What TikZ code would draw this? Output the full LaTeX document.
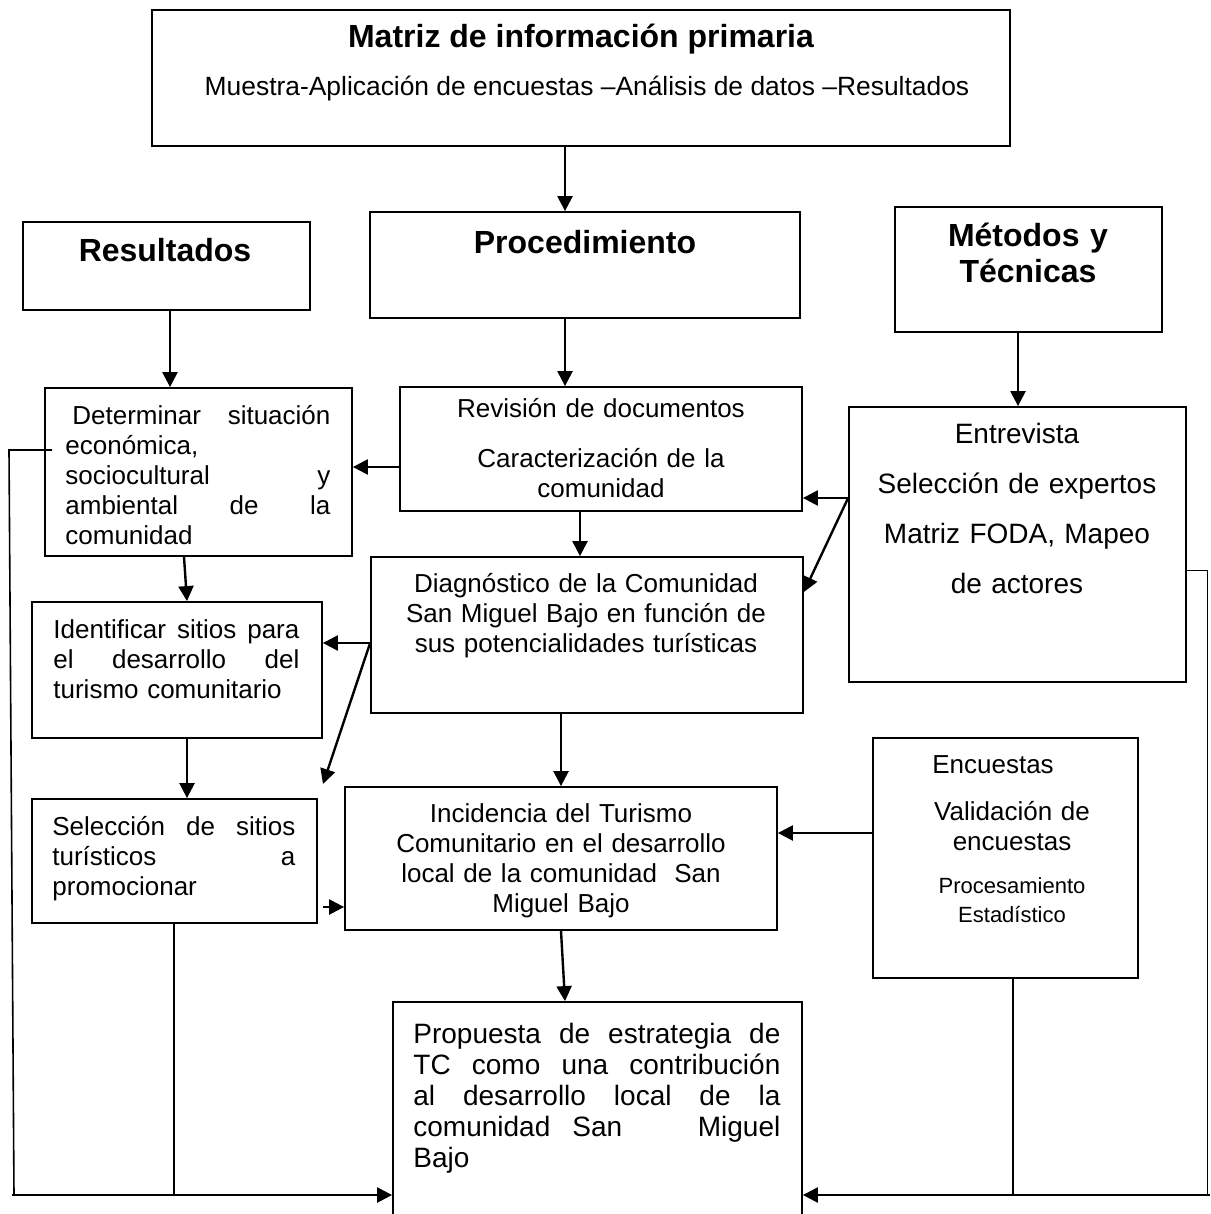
\documentclass[tikz,border=0pt]{standalone}
\usepackage{fontspec}
\setmainfont{Liberation Sans}
\usetikzlibrary{arrows.meta,fit}
\newcommand{\jl}[1]{\makebox[\hsize][s]{\spaceskip=.28em plus 1fil\relax #1}}

\begin{document}
\begin{tikzpicture}[x=0.5pt, y=-0.5pt,
  box/.style={draw, line width=0.9pt, inner sep=0pt},
  txt/.style={inner sep=0pt, font=\fontsize{13}{15}\selectfont},
  head/.style={inner sep=0pt, align=center, font=\fontsize{16}{17.5}\selectfont\bfseries},
  arr/.style={line width=1.2pt, -{Triangle[length=7.5pt,width=7.5pt]}},
  link/.style={line width=0.8pt}]

 \useasboundingbox (0,0) rectangle (1210,1214);

 %boxes
 \foreach \n/\xa/\ya/\xb/\yb in {mat/152/10/1010/146, res/23/222/310/310, pro/370/212/800/318,
   met/895/207/1162/332, det/45/388/352/556, rev/400/387/802/511, ent/849/407/1186/682,
   dia/371/557/803/713, ide/32/602/322/738, sel/32/799/317/923, inc/345/787/777/930,
   enc/873/738/1138/978, prop/393/1002/802/1222} {
   \node[box, fit={(\xa,\ya) (\xb,\yb)}] (\n) {};
 }

 %texts
 \node[head, anchor=base] (matT) at (581,48) {Matriz de información primaria};
 \node[txt, anchor=base, font=\fontsize{13.2}{15}\selectfont] (matS) at (587,96) {Muestra-Aplicación de encuestas –Análisis de datos –Resultados};
 \node[head, anchor=base] (resT) at (165,262) {Resultados};
 \node[head, anchor=base] (proT) at (585,253) {Procedimiento};
 \node[head, anchor=base, text width=130pt] (metT) at (1028,247) {Métodos y\\Técnicas};

 \node[txt, anchor=base west, text width=132.5pt, align=left] (detT) at (65,424)
   {\jl{\hspace*{3.5pt}Determinar situación}\\económica,\\\jl{sociocultural y}\\\jl{ambiental de la}\\comunidad};
 \node[txt, anchor=base, text width=190pt, align=center] (revT) at (601,417)
   {Revisión de documentos\\[10pt]Caracterización de la\\comunidad};
 \node[txt, anchor=base, text width=165pt, align=center, font=\fontsize{14}{25}\selectfont] (entT) at (1017,443)
   {Entrevista\\Selección de expertos\\Matriz FODA, Mapeo\\de actores};
 \node[txt, anchor=base, text width=210pt, align=center] (diaT) at (586,592)
   {Diagnóstico de la Comunidad\\San Miguel Bajo en función de\\sus potencialidades turísticas};
 \node[txt, anchor=base west, text width=123pt, align=left] (ideT) at (53,638)
   {\jl{Identificar sitios para}\\\jl{el desarrollo del}\\turismo comunitario};
 \node[txt, anchor=base west, text width=121.5pt, align=left] (selT) at (52,835)
   {\jl{Selección de sitios}\\\jl{turísticos a}\\promocionar};
 \node[txt, anchor=base, text width=210pt, align=center] (incT) at (561,822)
   {Incidencia del Turismo\\Comunitario en el desarrollo\\local de la comunidad\ \ San\\Miguel Bajo};
 \node[txt, anchor=base] (encT) at (993,773) {Encuestas};
 \node[txt, anchor=base, text width=120pt, align=center] (encV) at (1012,820) {Validación de\\encuestas};
 \node[txt, anchor=base, text width=120pt, align=center, font=\fontsize{11}{14.5}\selectfont] (encP) at (1012,893)
   {Procesamiento\\Estadístico};
 \node[txt, anchor=base west, text width=183.5pt, align=left, font=\fontsize{14}{15.5}\selectfont] (propT) at (413,1043)
   {\jl{Propuesta de estrategia de}\\\jl{TC como una contribución}\\\jl{al desarrollo local de la}\\\jl{comunidad\hspace{11pt}San\hfill Miguel}\\Bajo};

 %arrows down
 \foreach \a/\b/\x in {mat/pro/565, res/det/170, pro/rev/565, met/ent/1018, rev/dia/580, ide/sel/187, dia/inc/561}
   \draw[arr] (\a.south -| \x,0) -- (\b.north -| \x,0);
 \draw[arr] (det.south -| 184,0) -- (ide.north -| 187,0);
 \draw[arr] (inc.south -| 561,0) -- (prop.north -| 565,0);

 %arrows sideways
 \draw[arr] (rev.west |- 0,467) -- (det.east |- 0,467);
 \draw[arr] (ent.west |- 0,498) -- (rev.east |- 0,498);
 \draw[arr] (ent.west |- 0,498) -- (dia.east |- 0,592);
 \draw[arr] (dia.west |- 0,643) -- (ide.east |- 0,643);
 \coordinate (selTip) at (323,784);
 \draw[arr] (dia.west |- 0,643) -- (selTip);
 \draw[arr, shorten <=2.5pt] (sel.east |- 0,907) -- (inc.west |- 0,907);
 \draw[arr] (enc.west |- 0,833) -- (inc.east |- 0,833);

 %lines to the proposal
 \draw[link, shorten <=-4pt] (det.west |- 0,450) -- (9,450) -- (14,1195);
 \draw[link] (sel.south -| 174,0) -- (174,1195);
 \draw[arr] (12,1195) -- (prop.west |- 0,1195);
 \draw[link, line width=0.5pt] (ent.east |- 0,570) -- (1207,570) -- (1207,1195);
 \draw[link] (enc.south -| 1013,0) -- (1013,1195);
 \draw[arr] (1210,1195) -- (prop.east |- 0,1195);

\end{tikzpicture}
\end{document}
